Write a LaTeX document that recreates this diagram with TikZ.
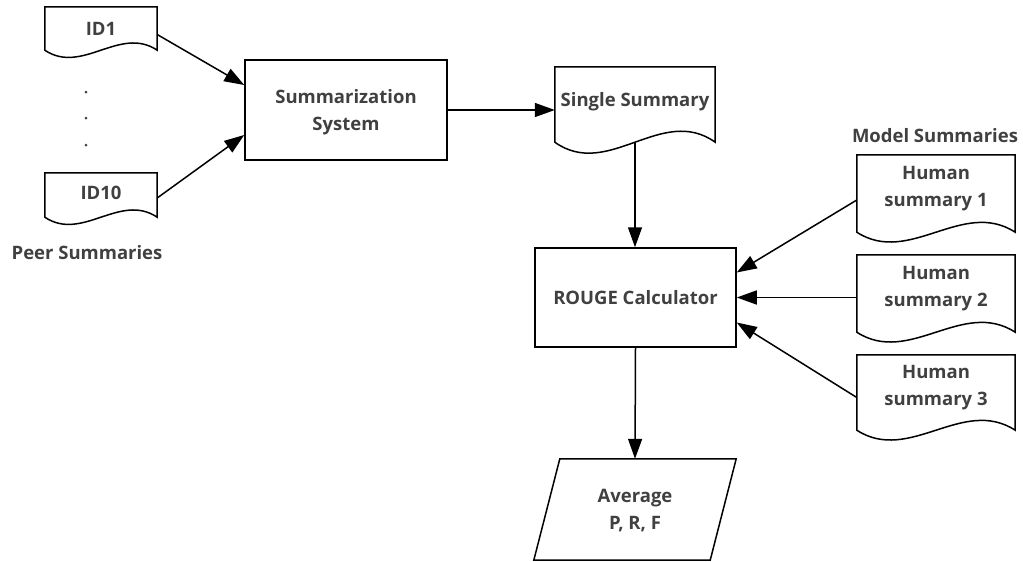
\documentclass[tikz,border=0pt]{standalone}
\usepackage{fontspec}
\setmainfont{Open Sans}
\usetikzlibrary{calc,arrows.meta}
\definecolor{txt}{HTML}{404040}
\tikzset{
  x=1pt, y=-1pt,
  lbl/.style={font=\bfseries\fontsize{18.5}{26.5}\selectfont, text=txt, align=center, inner sep=0pt, text depth=0pt},
  box/.style={lbl, draw=black, line width=1.5pt, minimum width=#1},
  doc/.style={lbl, inner sep=0pt},
  line/.style={draw=black, line width=1.5pt},
  flow/.style={line, -{Triangle[length=20pt,width=14pt]}},
  dot/.style={circle, fill=txt, inner sep=0pt, minimum size=3pt},
}
% document outline: flat top, wavy bottom that starts #2 below the node's south side
\newcommand\docoutline[3]{%
  \draw[line, line join=miter] (#1.north west) -- (#1.north east) -- ($(#1.south east)+(0,#2)$)
    .. controls ($(#1.south east)!0.333!(#1.south west)+(0,#2-#3)$)
       and ($(#1.south east)!0.667!(#1.south west)+(0,#2+#3)$)
    .. ($(#1.south west)+(0,#2)$) -- cycle;}
\begin{document}
\begin{tikzpicture}
  \useasboundingbox (0,0) rectangle (1023,562);

  % peer summaries
  \node[doc, minimum width=112pt, minimum height=43pt] (id1) at (101,28.5) {ID1};
  \node[doc, minimum width=112pt, minimum height=40pt] (id10) at (101,193) {ID10};
  \docoutline{id1}{0}{25}
  \docoutline{id10}{4}{25}
  \node[dot] (d1) at (86,92) {};
  \node[dot] (d2) at (86,118) {};
  \node[dot] (d3) at (86,145) {};
  \node[lbl] (peer) at (87,252) {Peer Summaries};

  % summarizer and its output
  \node[box=202pt, minimum height=100pt] (sys) at (346,110) {Summarization\\System};
  \node[doc, minimum width=160pt, minimum height=64pt] (ss) at (635,99) {Single Summary};
  \docoutline{ss}{11}{38}

  % evaluation
  \node[box=201pt, minimum height=99pt] (rouge) at (635.5,297.5) {ROUGE Calculator};
  \node[lbl, minimum width=176pt, minimum height=101pt] (avg) at (635,509.5) {Average\\P, R, F};
  \draw[line, line join=miter] ($(avg.north west)+(13,0)$) -- ($(avg.north east)+(13,0)$)
    -- ($(avg.south east)+(-13,0)$) -- ($(avg.south west)+(-13,0)$) -- cycle;

  % model summaries
  \node[lbl] (model) at (935,135) {Model Summaries};
  \node[doc, minimum width=158pt, minimum height=63pt] (h1) at (936,186.5) {Human\\summary 1};
  \node[doc, minimum width=158pt, minimum height=63pt] (h2) at (936,286.5) {Human\\summary 2};
  \node[doc, minimum width=158pt, minimum height=61pt] (h3) at (936,385.5) {Human\\summary 3};
  \docoutline{h1}{14}{34}
  \docoutline{h2}{14}{34}
  \docoutline{h3}{14}{34}

  % connectors
  \draw[flow] ($(id1.east)+(0,6)$) -- ($(sys.west)+(0,-25)$);
  \draw[flow] ($(id10.east)+(0,5)$) -- ($(sys.west)+(0,25)$);
  \draw[flow] (sys.east) -- ($(ss.west)+(0,11)$);
  \coordinate (ssb) at ($(ss.south)+(0,11)$);
  \draw[flow] (ssb) -- (ssb |- rouge.north);
  \draw[flow] ($(h1.west)+(0,13.5)$) -- ($(rouge.east)+(0,-25)$);
  \draw[flow] (h2.west |- rouge.east) -- (rouge.east);
  \draw[flow] ($(h3.west)+(0,12)$) -- ($(rouge.east)+(0,25)$);
  \draw[flow] (rouge.south) -- (avg.north);
\end{tikzpicture}
\end{document}
